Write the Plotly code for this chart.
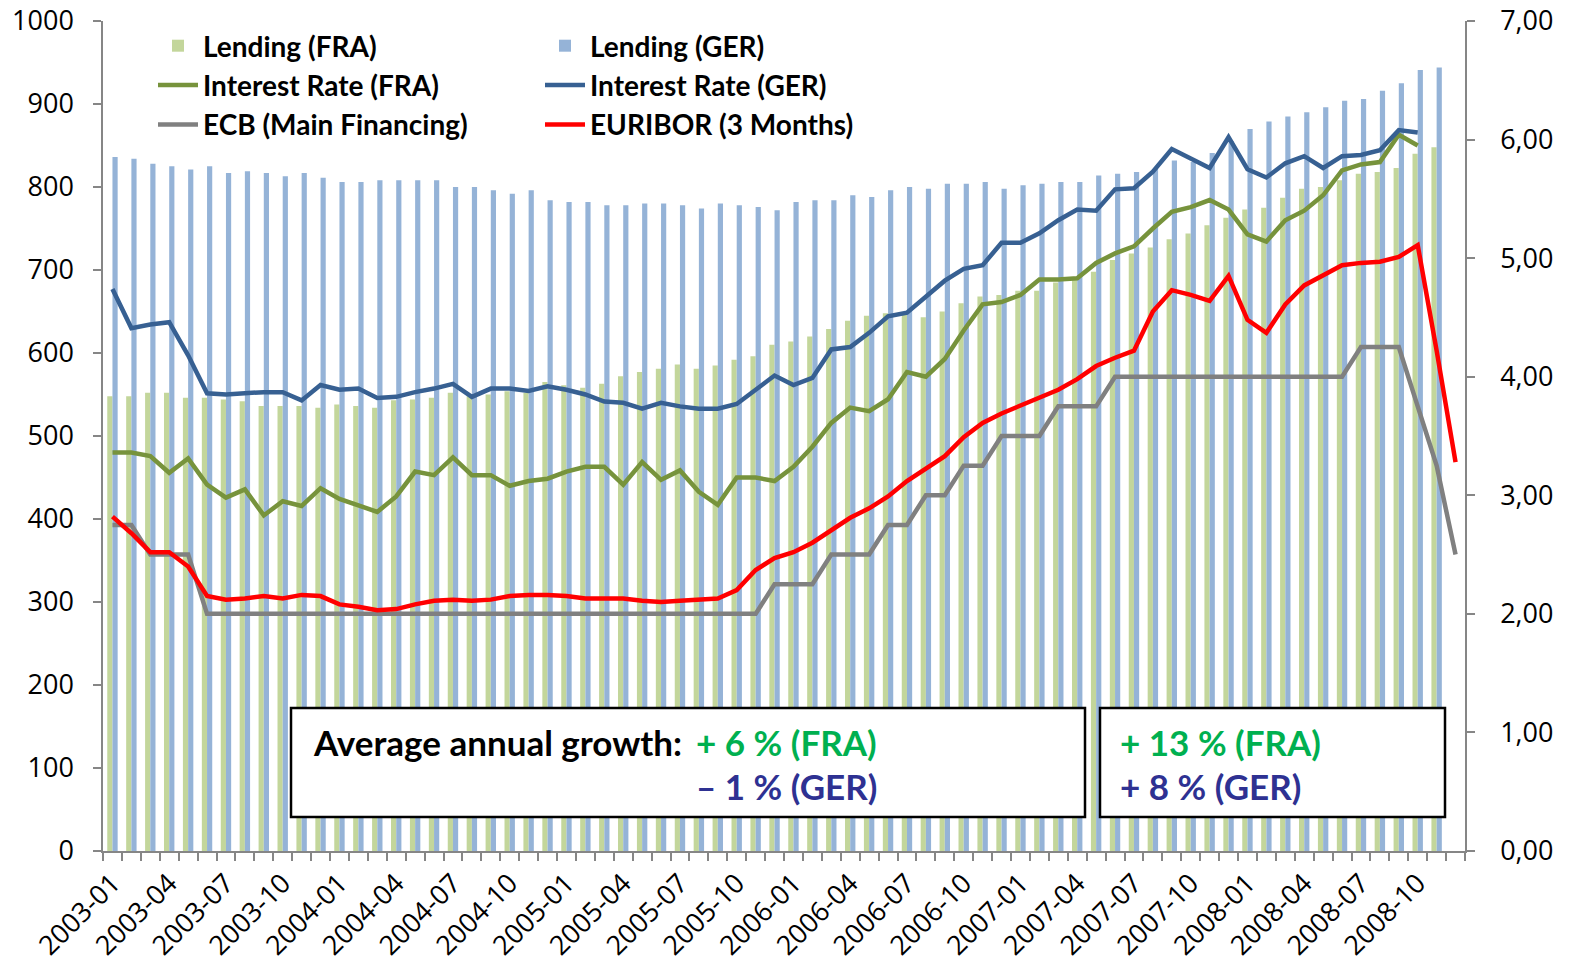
import plotly.graph_objects as go

# ---------------- data ----------------
months = ["2003-01","2003-02","2003-03","2003-04","2003-05","2003-06","2003-07","2003-08","2003-09","2003-10","2003-11","2003-12",
          "2004-01","2004-02","2004-03","2004-04","2004-05","2004-06","2004-07","2004-08","2004-09","2004-10","2004-11","2004-12",
          "2005-01","2005-02","2005-03","2005-04","2005-05","2005-06","2005-07","2005-08","2005-09","2005-10","2005-11","2005-12",
          "2006-01","2006-02","2006-03","2006-04","2006-05","2006-06","2006-07","2006-08","2006-09","2006-10","2006-11","2006-12",
          "2007-01","2007-02","2007-03","2007-04","2007-05","2007-06","2007-07","2007-08","2007-09","2007-10","2007-11","2007-12",
          "2008-01","2008-02","2008-03","2008-04","2008-05","2008-06","2008-07","2008-08","2008-09","2008-10","2008-11","2008-12"]

tick_labels = ["2003-01","2003-04","2003-07","2003-10","2004-01","2004-04","2004-07","2004-10",
               "2005-01","2005-04","2005-07","2005-10","2006-01","2006-04","2006-07","2006-10",
               "2007-01","2007-04","2007-07","2007-10","2008-01","2008-04","2008-07","2008-10"]

lending_fra = [548, 548, 552, 552, 546, 546, 544, 542, 536, 536,
               536, 534, 538, 536, 534, 543, 544, 546, 552, 548,
               550, 554, 552, 565, 561, 558, 563, 572, 577, 581,
               586, 581, 585, 592, 596, 610, 614, 620, 629, 639,
               645, 648, 646, 643, 650, 660, 668, 670, 675, 675,
               685, 688, 698, 712, 720, 727, 737, 744, 754, 763,
               773, 775, 787, 798, 800, 808, 816, 818, 823, 840, 848, None]

lending_ger = [836, 834, 828, 825, 821, 825, 817, 819, 817, 813,
               817, 811, 806, 806, 808, 808, 808, 808, 800, 800,
               796, 792, 796, 784, 782, 782, 778, 778, 780, 780,
               778, 774, 780, 778, 776, 772, 782, 784, 784, 790,
               788, 796, 800, 798, 804, 804, 806, 798, 802, 804,
               806, 806, 814, 816, 818, 822, 832, 830, 841, 855,
               870, 879, 885, 890, 896, 904, 906, 916, 925, 941, 944, None]

rate_fra = [3.36, 3.36, 3.33, 3.19, 3.31, 3.09, 2.98, 3.05, 2.83, 2.95,
            2.91, 3.06, 2.97, 2.91, 2.86, 2.99, 3.20, 3.17, 3.32, 3.17,
            3.17, 3.08, 3.12, 3.14, 3.20, 3.24, 3.24, 3.09, 3.28, 3.13,
            3.21, 3.03, 2.92, 3.15, 3.15, 3.12, 3.24, 3.41, 3.61, 3.74,
            3.71, 3.81, 4.04, 4.00, 4.15, 4.39, 4.61, 4.63, 4.69, 4.82,
            4.82, 4.83, 4.96, 5.04, 5.10, 5.25, 5.39, 5.43, 5.49, 5.41,
            5.20, 5.14, 5.32, 5.40, 5.53, 5.74, 5.79, 5.81, 6.04, 5.95, None, None]

rate_ger = [4.74, 4.41, 4.44, 4.46, 4.18, 3.86, 3.85, 3.86, 3.87, 3.87,
            3.80, 3.93, 3.89, 3.90, 3.82, 3.83, 3.87, 3.90, 3.94, 3.83,
            3.90, 3.90, 3.88, 3.92, 3.89, 3.85, 3.79, 3.78, 3.73, 3.78,
            3.75, 3.73, 3.73, 3.77, 3.89, 4.01, 3.93, 3.99, 4.23, 4.25,
            4.37, 4.51, 4.54, 4.68, 4.81, 4.91, 4.94, 5.13, 5.13, 5.21,
            5.32, 5.41, 5.40, 5.58, 5.59, 5.73, 5.92, 5.84, 5.76, 6.02,
            5.75, 5.68, 5.80, 5.86, 5.76, 5.86, 5.87, 5.91, 6.08, 6.06, None, None]

ecb_rate = [2.75, 2.75, 2.50, 2.50, 2.50, 2.00, 2.00, 2.00, 2.00, 2.00,
            2.00, 2.00, 2.00, 2.00, 2.00, 2.00, 2.00, 2.00, 2.00, 2.00,
            2.00, 2.00, 2.00, 2.00, 2.00, 2.00, 2.00, 2.00, 2.00, 2.00,
            2.00, 2.00, 2.00, 2.00, 2.00, 2.25, 2.25, 2.25, 2.50, 2.50,
            2.50, 2.75, 2.75, 3.00, 3.00, 3.25, 3.25, 3.50, 3.50, 3.50,
            3.75, 3.75, 3.75, 4.00, 4.00, 4.00, 4.00, 4.00, 4.00, 4.00,
            4.00, 4.00, 4.00, 4.00, 4.00, 4.00, 4.25, 4.25, 4.25, 3.75, 3.25, 2.50]

euribor = [2.82, 2.68, 2.52, 2.52, 2.40, 2.15, 2.12, 2.13, 2.15, 2.13,
           2.16, 2.15, 2.08, 2.06, 2.03, 2.04, 2.08, 2.11, 2.12, 2.11,
           2.12, 2.15, 2.16, 2.16, 2.15, 2.13, 2.13, 2.13, 2.11, 2.10,
           2.11, 2.12, 2.13, 2.20, 2.37, 2.47, 2.52, 2.60, 2.71, 2.81,
           2.89, 2.99, 3.12, 3.23, 3.33, 3.49, 3.61, 3.69, 3.76, 3.83,
           3.89, 3.98, 4.09, 4.16, 4.22, 4.55, 4.73, 4.69, 4.64, 4.85,
           4.48, 4.37, 4.61, 4.77, 4.86, 4.94, 4.96, 4.97, 5.01, 5.11, 4.22, 3.28]

left_ticks = [0, 100, 200, 300, 400, 500, 600, 700, 800, 900, 1000]
right_ticks = [0, 1, 2, 3, 4, 5, 6, 7]
right_tick_text = ["0,00", "1,00", "2,00", "3,00", "4,00", "5,00", "6,00", "7,00"]

# ---------------- style ----------------
C_FRA_BAR = "#C3D69B"
C_GER_BAR = "#95B3D7"
C_FRA_LINE = "#77933C"
C_GER_LINE = "#376092"
C_ECB = "#808080"
C_EUR = "#FF0000"
AXIS = "#868686"
TICK_FONT = dict(family="Open Sans", size=27, color="#000000")
XTICK_FONT = dict(family="Open Sans", size=27, color="#000000")
LEG_FONT = dict(family="Lato", size=28, color="#000000", weight=700)
BOX_FONT = "Lato"
GREEN_TXT = "#00B050"
BLUE_TXT = "#2E3192"
LW = 4.5

fig = go.Figure()
fig.add_trace(go.Bar(x=months, y=lending_fra, name="Lending (FRA)", marker=dict(color=C_FRA_BAR, line=dict(width=0)),
                     legend="legend", yaxis="y"))
fig.add_trace(go.Bar(x=months, y=lending_ger, name="Lending (GER)", marker=dict(color=C_GER_BAR, line=dict(width=0)),
                     legend="legend2", yaxis="y"))
fig.add_trace(go.Scatter(x=months, y=rate_fra, name="Interest Rate (FRA)", mode="lines",
                         line=dict(color=C_FRA_LINE, width=LW), legend="legend", yaxis="y2"))
fig.add_trace(go.Scatter(x=months, y=rate_ger, name="Interest Rate (GER)", mode="lines",
                         line=dict(color=C_GER_LINE, width=LW), legend="legend2", yaxis="y2"))
fig.add_trace(go.Scatter(x=months, y=ecb_rate, name="ECB (Main Financing)", mode="lines",
                         line=dict(color=C_ECB, width=LW), legend="legend", yaxis="y2"))
fig.add_trace(go.Scatter(x=months, y=euribor, name="EURIBOR (3 Months)", mode="lines",
                         line=dict(color=C_EUR, width=LW), legend="legend2", yaxis="y2"))

tick_text_all = [m if m in tick_labels else "" for m in months]

# the page body margin is removed (see write_html below), so the figure fills the window
W, H = 1570, 974
ML, MT = 103, 21
PW, PH = 1362, 830
MR = W - ML - PW
MB = H - MT - PH

def px_x(px):
    return (px - ML) / PW

def px_y(py):
    return (MT + PH - py) / PH

fig.update_layout(
    width=W, height=H,
    margin=dict(l=ML, r=MR, t=MT, b=MB, pad=0, autoexpand=False),
    paper_bgcolor="white", plot_bgcolor="white",
    barmode="group", bargap=0.45, bargroupgap=0,
    xaxis=dict(type="category", categoryorder="array", categoryarray=months,
               tickmode="array", tickvals=months, ticktext=tick_text_all,
               tickson="boundaries", ticks="outside", ticklen=8, tickwidth=1.5, tickcolor=AXIS,
               tickangle=-45, tickfont=XTICK_FONT, automargin=False, ticklabelstandoff=4,
               ticklabeloverflow="allow",
               showline=True, linecolor=AXIS, linewidth=1.5, showgrid=False, zeroline=False,
               range=[-0.5, 71.5]),
    yaxis=dict(range=[0, 1000], tickmode="array", tickvals=left_ticks, automargin=False,
               ticks="outside", ticklen=8, tickwidth=1.5, tickcolor=AXIS, tickfont=TICK_FONT,
               ticklabelstandoff=14, ticklabeloverflow="allow",
               showline=True, linecolor=AXIS, linewidth=1.5, showgrid=False, zeroline=False),
    yaxis2=dict(range=[0, 7], overlaying="y", side="right", tickmode="array",
                tickvals=right_ticks, ticktext=right_tick_text, automargin=False,
                ticks="outside", ticklen=8, tickwidth=1.5, tickcolor=AXIS, tickfont=TICK_FONT,
                ticklabelstandoff=20, ticklabeloverflow="allow",
                showline=True, linecolor=AXIS, linewidth=1.5, showgrid=False, zeroline=False),
    legend=dict(x=px_x(153), y=px_y(21), xanchor="left", yanchor="top", font=LEG_FONT,
                bgcolor="rgba(0,0,0,0)", tracegroupgap=0, itemwidth=40, traceorder="normal"),
    legend2=dict(x=px_x(540), y=px_y(21), xanchor="left", yanchor="top", font=LEG_FONT,
                 bgcolor="rgba(0,0,0,0)", tracegroupgap=0, itemwidth=40, traceorder="normal"),
    showlegend=True,
)

# annotation boxes
fig.add_shape(type="rect", xref="paper", yref="paper",
              x0=px_x(291), x1=px_x(1085), y0=px_y(817), y1=px_y(708),
              line=dict(color="black", width=2.5), fillcolor="white", layer="above")
fig.add_shape(type="rect", xref="paper", yref="paper",
              x0=px_x(1100), x1=px_x(1445), y0=px_y(817), y1=px_y(708),
              line=dict(color="black", width=2.5), fillcolor="white", layer="above")

def txt(s, px, py, color):
    fig.add_annotation(text=s, xref="paper", yref="paper", x=px_x(px), y=px_y(py),
                       xanchor="left", yanchor="middle", showarrow=False,
                       font=dict(family=BOX_FONT, size=35, color=color, weight=700))

txt("Average annual growth:", 311, 742, "#000000")
txt("+ 6 % (FRA)", 694, 742, GREEN_TXT)
txt("\u2013 1 % (GER)", 694, 786, BLUE_TXT)
txt("+ 13 % (FRA)", 1118, 742, GREEN_TXT)
txt("+ 8 % (GER)", 1118, 786, BLUE_TXT)

fig.write_html("out.html", config={"displayModeBar": False},
               post_script="document.body.style.margin='0';document.body.style.overflow='hidden';")
